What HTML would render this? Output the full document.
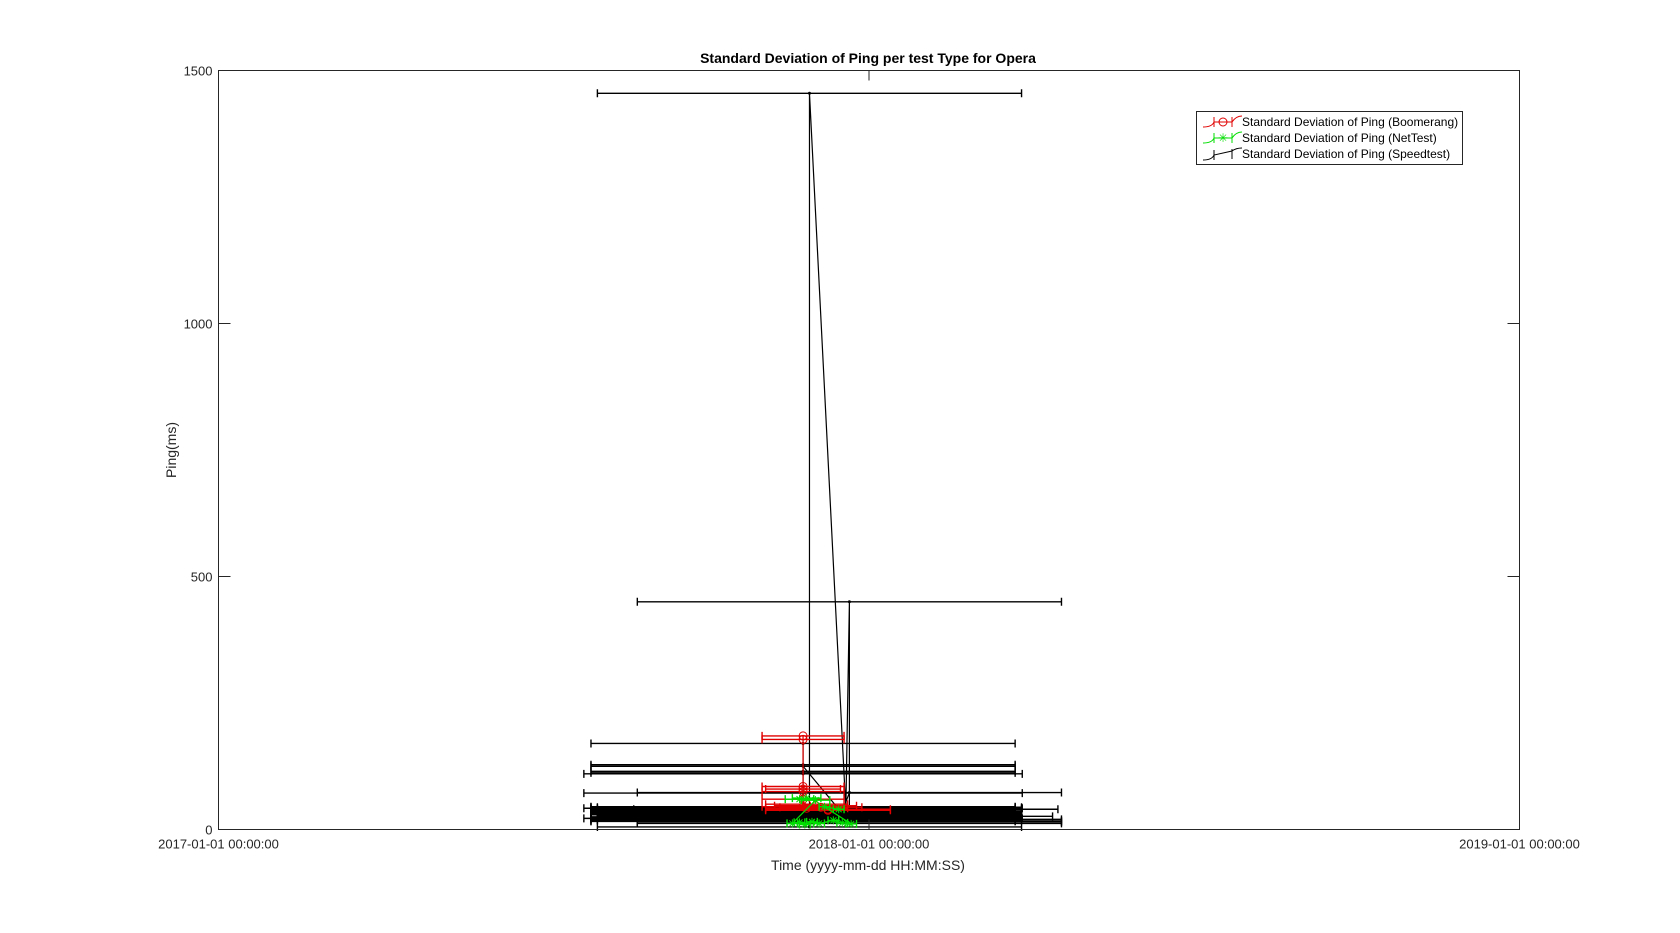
<!DOCTYPE html>
<html><head><meta charset="utf-8">
<style>
body{margin:0;background:#fff;}
svg{display:block;font-family:"Liberation Sans",Arial,sans-serif;}
</style></head>
<body>
<svg id="chart" width="1680" height="933" viewBox="0 0 1680 933">
  <rect x="0" y="0" width="1680" height="933" fill="#fff"/>
  <text x="868" y="63" font-size="14" font-weight="bold" text-anchor="middle" fill="#000">Standard Deviation of Ping per test Type for Opera</text>
  <g id="marks"></g>
  <rect x="218.5" y="70.5" width="1301" height="759" fill="none" stroke="#262626" stroke-width="1"/>
  <g id="axes"></g>
  <text transform="translate(176,450) rotate(-90)" font-size="14" text-anchor="middle" fill="#262626">Ping(ms)</text>
  <text x="868" y="870" font-size="14" text-anchor="middle" fill="#262626">Time (yyyy-mm-dd HH:MM:SS)</text>
  <g>
    <rect x="1196.5" y="111.5" width="266" height="53" fill="#fff" stroke="#262626"/>
    <g>
      <path d="M1203 127 Q1212 127 1214 122 L1232 122 Q1236 116 1242 116" stroke="#e00000" fill="none"/>
      <line x1="1214" y1="117" x2="1214" y2="127" stroke="#e00000"/><line x1="1232" y1="117" x2="1232" y2="127" stroke="#e00000"/>
      <circle cx="1223" cy="122" r="4" stroke="#e00000" fill="none"/>
      <text x="1242" y="126" font-size="12" fill="#000">Standard Deviation of Ping (Boomerang)</text>
    </g>
    <g>
      <path d="M1203 143 Q1212 143 1214 138 L1232 138 Q1236 132 1242 132" stroke="#00dd00" fill="none"/>
      <line x1="1214" y1="133" x2="1214" y2="143" stroke="#00dd00"/><line x1="1232" y1="133" x2="1232" y2="143" stroke="#00dd00"/>
      <text x="1223" y="142" font-size="12" fill="#00dd00" text-anchor="middle">✳</text>
      <text x="1242" y="142" font-size="12" fill="#000">Standard Deviation of Ping (NetTest)</text>
    </g>
    <g>
      <path d="M1203 160 Q1212 160 1214 155 L1232 151 Q1236 148 1242 148" stroke="#000" fill="none"/>
      <line x1="1214" y1="150" x2="1214" y2="160" stroke="#000"/><line x1="1232" y1="149" x2="1232" y2="159" stroke="#000"/>
      <text x="1242" y="158" font-size="12" fill="#000">Standard Deviation of Ping (Speedtest)</text>
    </g>
  </g>
</svg>
<script>
// x in days since 2017-01-01
const xTickDays = [0, 365, 730];
const xTickLabels = ["2017-01-01 00:00:00", "2018-01-01 00:00:00", "2019-01-01 00:00:00"];
const yTicks = [0, 500, 1000, 1500];

const speedDays = [328, 328, 328, 328, 328, 331.6, 331.6, 352, 354, 354, 328, 328, 328, 328, 328, 328, 328, 331.6, 331.6, 331.6, 331.6, 349, 354, 354, 354, 354, 328, 328, 331.6,
  328, 328, 328, 328, 328, 328, 328, 328, 328, 328, 331.6, 331.6, 331.6, 331.6, 331.6, 331.6, 331.6, 331.6, 328, 328, 328, 328, 328, 328, 331.6, 331.6, 331.6, 331.6];
const speedVals = [20, 170, 128, 112, 40, 5, 1455, 40, 450, 15, 125, 115, 110, 72, 45, 42, 38, 35, 32, 30, 28, 26, 73, 20, 17, 12, 24, 22, 18,
  44, 43, 41, 39, 37, 36, 34, 33, 31, 29, 44, 42, 40, 37, 35, 33, 29, 27, 25, 23, 21, 19, 17, 16, 26, 24, 22, 20];
const speedXerr = [119, 119, 119, 119, 119, 119, 119, 119, 119, 119, 119, 119, 123, 123, 119, 123, 119, 119, 119, 119, 119, 119, 119, 119, 119, 119, 119, 123, 119,
  119, 119, 119, 119, 119, 119, 119, 119, 119, 119, 119, 119, 119, 119, 119, 119, 119, 119, 119, 119, 119, 119, 119, 119, 119, 119, 119, 119];

const boomDays = [328, 328, 328, 328, 328, 328, 328, 330, 342, 342, 330, 335, 338];
const boomVals = [185, 178, 85, 80, 75, 60, 45, 42, 40, 38, 50, 47, 44];
const boomXerr = [23, 23, 23, 21, 23, 23, 23, 23, 35, 35, 23, 23, 23];

const netDays = [326, 330, 335, 322, 326, 329, 333, 337, 345, 350, 355, 340, 348];
const netVals = [60, 62, 58, 12, 14, 10, 15, 12, 18, 13, 11, 45, 40];
const netXerr = [8, 8, 8, 3, 3, 3, 3, 3, 3, 3, 3, 3, 3];

const X0 = 218.5, X1 = 1519.5, Y0 = 829.5, Y1 = 70.5;
function xs(d){ return X0 + (d / 730) * (X1 - X0); }
function ys(v){ return Y0 - (v / 1500) * (Y0 - Y1); }
const NS = "http://www.w3.org/2000/svg";
const marks = document.getElementById('marks');
const axes = document.getElementById('axes');
function mk(tag, attrs, parent){
  const e = document.createElementNS(NS, tag);
  for (const k in attrs) e.setAttribute(k, attrs[k]);
  parent.appendChild(e); return e;
}

xTickDays.forEach((d, i) => {
  const x = xs(d);
  const t1 = mk('line', {x1:x, y1:Y0, x2:x, y2:Y0-10, stroke:'#262626'}, axes);
  
  
  const t2 = mk('line', {x1:x, y1:Y1, x2:x, y2:Y1+10, stroke:'#262626'}, axes);
  
  
  const lb = mk('text', {x:x, y:Y0+19, 'font-size':13, 'text-anchor':'middle', fill:'#262626'}, axes);
  lb.textContent = xTickLabels[i];
  
  
});
yTicks.forEach(v => {
  const y = ys(v);
  const t1 = mk('line', {x1:X0, y1:y, x2:X0+12, y2:y, stroke:'#262626'}, axes);
  
  
  const t2 = mk('line', {x1:X1, y1:y, x2:X1-12, y2:y, stroke:'#262626'}, axes);
  
  
  const lb = mk('text', {x:X0-6, y:y+5, 'font-size':13, 'text-anchor':'end', fill:'#262626'}, axes);
  lb.textContent = v;
  
  
});

function series(days, vals, xerr, color, name, marker){
  const g = mk('g', {}, marks);
  
  
  days.forEach((d, i) => {
    const y = ys(vals[i]);
    const xl = xs(d - xerr[i]), xr = xs(d + xerr[i]);
    const eb = mk('path', {d:`M${xl} ${y}H${xr}M${xl} ${y-4}V${y+4}M${xr} ${y-4}V${y+4}`, stroke:color, fill:'none', 'stroke-width':1.4}, g);
    
    
  });
  const pts = days.map((d, i) => xs(d) + ',' + ys(vals[i])).join(' ');
  const ln = mk('polyline', {points:pts, stroke:color, fill:'none', 'stroke-width':1.2}, g);
  
  
  days.forEach((d, i) => {
    const x = xs(d), y = ys(vals[i]);
    let m;
    if (marker === 'o') m = mk('circle', {cx:x, cy:y, r:4, stroke:color, fill:'none'}, g);
    else if (marker === '*') m = mk('path', {d:`M${x-4} ${y}H${x+4}M${x} ${y-4}V${y+4}M${x-3} ${y-3}L${x+3} ${y+3}M${x-3} ${y+3}L${x+3} ${y-3}`, stroke:color}, g);
    else m = mk('circle', {cx:x, cy:y, r:1.5, fill:color}, g);
    
    
  });
}
series(speedDays, speedVals, speedXerr, '#000', 'speedtest-series', '.');
series(boomDays, boomVals, boomXerr, '#e00000', 'boomerang-series', 'o');
series(netDays, netVals, netXerr, '#00dd00', 'nettest-series', '*');
</script>
</body></html>
